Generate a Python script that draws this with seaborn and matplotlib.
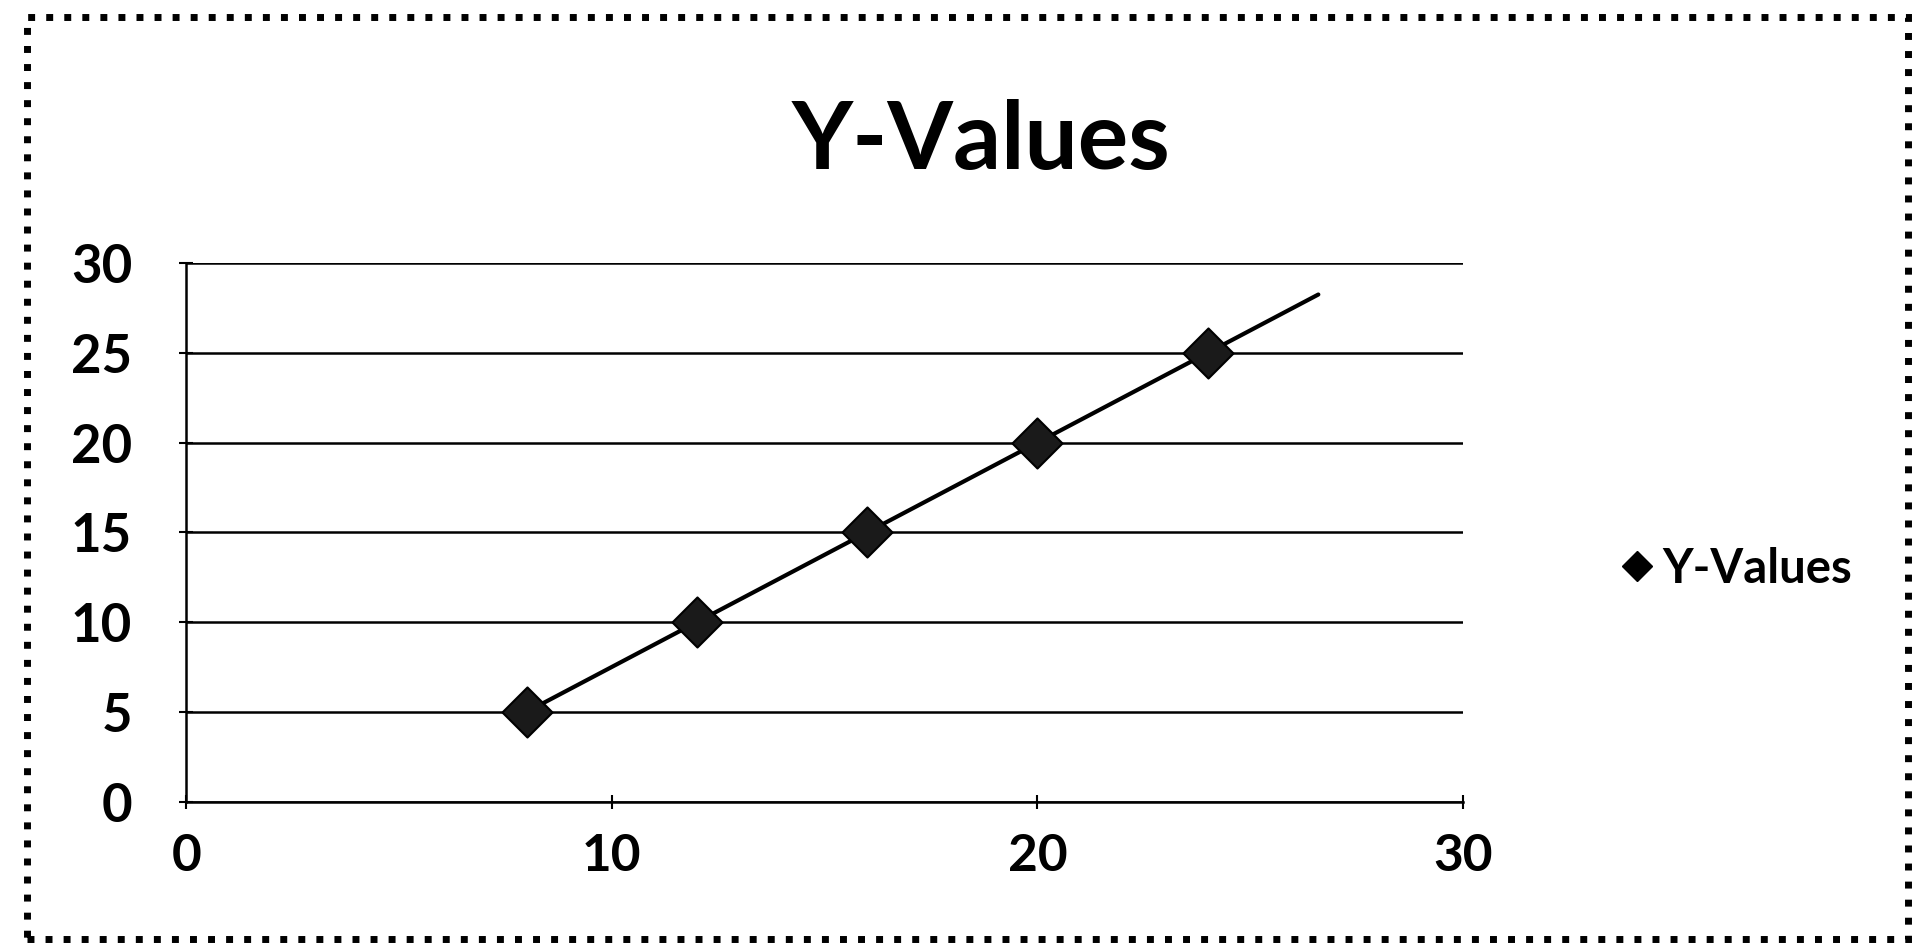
import numpy as np
import pandas as pd
import seaborn as sns
import matplotlib.pyplot as plt
from matplotlib.patches import Rectangle
from matplotlib.lines import Line2D

sns.set_theme(style="white")
plt.rcParams['font.family'] = ['Lato', 'DejaVu Sans']
plt.rcParams['font.weight'] = 'bold'
plt.rcParams['text.color'] = 'black'
plt.rcParams['xtick.color'] = 'black'
plt.rcParams['ytick.color'] = 'black'

# data
x_values = [8, 12, 16, 20, 24]
y_values = [5, 10, 15, 20, 25]
series_name = "Y-Values"
x_ticks = [0, 10, 20, 30]
y_ticks = [0, 5, 10, 15, 20, 25, 30]
forecast_forward = 2.6  # trendline extends past the last point

df = pd.DataFrame({"x": x_values, "y": y_values})

fig = plt.figure(figsize=(19.2, 9.43), dpi=100)
ax = fig.add_axes([0.097, 0.150, 0.665, 0.571])

# linear trendline
slope, intercept = np.polyfit(df["x"], df["y"], 1)
tx = np.array([df["x"].min(), df["x"].max() + forecast_forward])
trend = pd.DataFrame({"x": tx, "y": slope * tx + intercept})
sns.lineplot(data=trend, x="x", y="y", ax=ax, color="black", linewidth=3, zorder=3)

sns.scatterplot(data=df, x="x", y="y", ax=ax, marker="D", s=650,
                color="#1a1a1a", edgecolor="black", linewidth=1.5, zorder=4)

ax.set_xlim(0, 30)
ax.set_ylim(0, 30)
ax.set_xticks(x_ticks)
ax.set_yticks(y_ticks)
ax.yaxis.grid(True, color="black", linewidth=1.8)
ax.xaxis.grid(False)
ax.set_axisbelow(True)
for s in ["top", "right"]:
    ax.spines[s].set_visible(False)
for s in ["left", "bottom"]:
    ax.spines[s].set_color("black")
    ax.spines[s].set_linewidth(1.8)
ax.tick_params(axis="y", direction="inout", length=10, width=1.5, color="black",
               labelsize=38, pad=34, left=True, labelcolor="black")
ax.tick_params(axis="x", direction="inout", length=10, width=1.5, color="black",
               labelsize=37, pad=18, bottom=True, labelcolor="black")
for lab in ax.get_xticklabels() + ax.get_yticklabels():
    lab.set_fontweight("bold")
ax.set_xlabel("")
ax.set_ylabel("")

fig.suptitle(series_name, x=0.511, y=0.895, fontsize=68, fontweight="bold", color="black")

handle = Line2D([], [], marker="D", color="black", linestyle="none", markersize=15)
fig.legend([handle], [series_name], loc="center left", bbox_to_anchor=(0.818, 0.397),
           frameon=False, handletextpad=0.05, handlelength=1.0,
           prop={"weight": "bold", "size": 34}, labelcolor="black")

# dotted chart border
fig.patches.append(Rectangle((0.014, 0.004), 0.98, 0.978, transform=fig.transFigure,
                             fill=False, edgecolor="black", linewidth=5,
                             linestyle=(0, (1, 1.6))))

fig.savefig("out.png", dpi=100)
